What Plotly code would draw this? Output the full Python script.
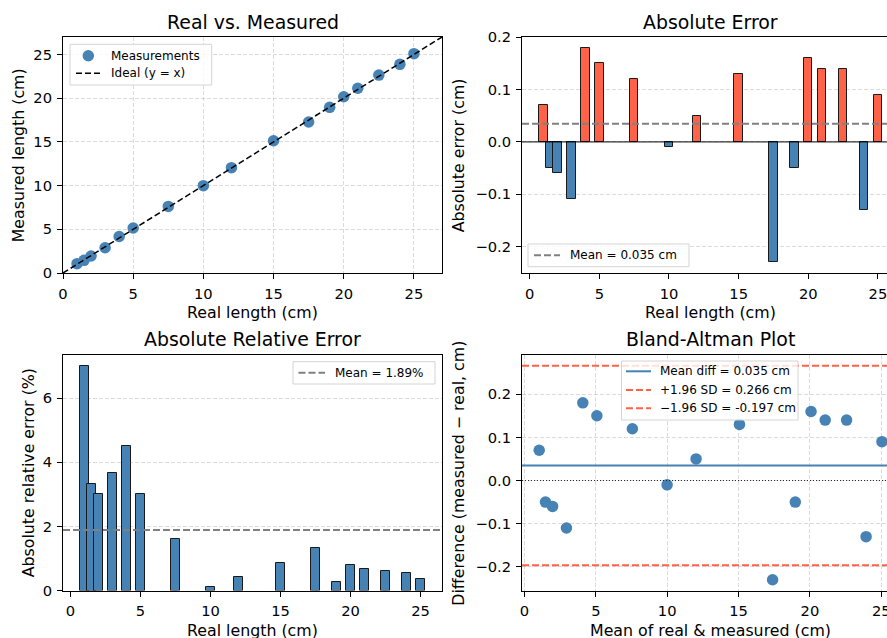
import numpy as np
import plotly.graph_objects as go

# ---------------- data ----------------
real_length = [1, 1.5, 2, 3, 4, 5, 7.5, 10, 12, 15, 17.5, 19, 20, 21, 22.5, 24, 25]
measured_length = [1.07, 1.45, 1.94, 2.89, 4.18, 5.15, 7.62, 9.99, 12.05, 15.13,
                   17.27, 18.95, 20.16, 21.14, 22.64, 23.87, 25.09]
x_ticks = [0, 5, 10, 15, 20, 25]
err_ticks = [-0.2, -0.1, 0.0, 0.1, 0.2]
rel_ticks = [0, 2, 4, 6]

real = np.array(real_length, dtype=float)
meas = np.array(measured_length, dtype=float)
err = np.round(meas - real, 4)
rel_err = np.abs(err) / real * 100
mean_err = err.mean()
mean_rel = rel_err.mean()
sd = err.std()
upper = mean_err + 1.96 * sd
lower = mean_err - 1.96 * sd
ba_x = (real + meas) / 2
lim = 27

# ---------------- style ----------------
FONT = "DejaVu Sans"
BLUE = "#4682B4"
RED = "#FF6347"
W, H = 887, 638
GRID = "rgba(176,176,176,0.45)"
DASH = "7px,3px"


def px(v):
    return v / W


def py(v):
    return 1 - v / H


def axis(domain, rng, ticks, grid, fmt=None, anchor=None, mirror=True):
    d = dict(domain=domain, range=rng, autorange=False, tickmode="array", tickvals=ticks,
             showline=True, linecolor="black", linewidth=1, mirror=mirror,
             ticks="outside", ticklen=5, tickwidth=1, tickcolor="black",
             tickfont=dict(family=FONT, size=14.7, color="black"),
             showgrid=grid, gridcolor=GRID, griddash="4px,2px", gridwidth=1,
             zeroline=False, anchor=anchor, ticklabelstandoff=2,
             automargin=False, ticklabeloverflow="allow")
    if fmt:
        d["tickformat"] = fmt
    return d


fig = go.Figure()

# Panel 1: Real vs Measured
fig.add_trace(go.Scatter(x=real, y=meas, mode="markers", name="Measurements",
                         marker=dict(color=BLUE, size=11.5), xaxis="x", yaxis="y"))
fig.add_trace(go.Scatter(x=[0, lim], y=[0, lim], mode="lines", name="Ideal (y = x)",
                         line=dict(color="black", dash="6px,3px", width=1.5),
                         xaxis="x", yaxis="y"))

# Panel 2: Absolute error bars
fig.add_trace(go.Bar(x=real, y=err, width=0.6,
                     marker=dict(color=[RED if e > 0 else BLUE for e in err],
                                 line=dict(color="#1a1a1a", width=1)),
                     xaxis="x2", yaxis="y2"))

# Panel 3: Relative error bars
fig.add_trace(go.Bar(x=real, y=rel_err, width=0.6,
                     marker=dict(color=BLUE, line=dict(color="#1a1a1a", width=1)),
                     xaxis="x3", yaxis="y3"))

# Panel 4: Bland-Altman
fig.add_trace(go.Scatter(x=ba_x, y=err, mode="markers",
                         marker=dict(color=BLUE, size=11.5), xaxis="x4", yaxis="y4"))

shapes = [
    dict(type="line", xref="x2 domain", yref="y2", x0=0, x1=1, y0=0, y1=0,
         line=dict(color="black", width=1)),
    dict(type="line", xref="x2 domain", yref="y2", x0=0, x1=1, y0=mean_err, y1=mean_err,
         line=dict(color="gray", width=2, dash=DASH)),
    dict(type="line", xref="x3 domain", yref="y3", x0=0, x1=1, y0=mean_rel, y1=mean_rel,
         line=dict(color="gray", width=2, dash=DASH)),
    dict(type="line", xref="x4 domain", yref="y4", x0=0, x1=1, y0=0, y1=0,
         line=dict(color="#222", width=1, dash="1px,2px")),
    dict(type="line", xref="x4 domain", yref="y4", x0=0, x1=1, y0=mean_err, y1=mean_err,
         line=dict(color=BLUE, width=2)),
    dict(type="line", xref="x4 domain", yref="y4", x0=0, x1=1, y0=upper, y1=upper,
         line=dict(color=RED, width=2, dash=DASH)),
    dict(type="line", xref="x4 domain", yref="y4", x0=0, x1=1, y0=lower, y1=lower,
         line=dict(color=RED, width=2, dash=DASH)),
]


def text(s, x, y, size, angle=0, anchor="center"):
    return dict(text=s, x=px(x), y=py(y), xref="paper", yref="paper", showarrow=False,
                xanchor=anchor, yanchor="middle", textangle=angle,
                font=dict(family=FONT, size=size, color="black"))


TS, LS, LG = 18.9, 15.8, 12
annotations = [
    text("Real vs. Measured", 252.5, 21.7, TS),
    text("Absolute Error", 710, 21.7, TS),
    text("Absolute Relative Error", 252.5, 339.3, TS),
    text("Bland-Altman Plot", 710, 339.3, TS),
    text("Real length (cm)", 252.5, 312, LS),
    text("Real length (cm)", 710, 312, LS),
    text("Real length (cm)", 252.5, 630, LS),
    text("Mean of real &amp; measured (cm)", 710, 630, LS),
    text("Measured length (cm)", 18.3, 155, LS, -90),
    text("Absolute error (cm)", 458.3, 155, LS, -90),
    text("Absolute relative error (%)", 28.3, 473, LS, -90),
    text("Difference (measured \u2212 real, cm)", 457.7, 473, LS, -90),
]


# ---------------- legends (matplotlib-like framed boxes) ----------------
def leg_box(x0, y0, x1, y1):
    shapes.append(dict(type="rect", xref="paper", yref="paper", x0=px(x0), x1=px(x1),
                       y0=py(y1), y1=py(y0), fillcolor="rgba(255,255,255,0.8)",
                       line=dict(color="#d4d4d4", width=1)))


def leg_line(xa, xb, y, color, dash=None, width=2):
    ln = dict(color=color, width=width)
    if dash:
        ln["dash"] = dash
    shapes.append(dict(type="line", xref="paper", yref="paper", x0=px(xa), x1=px(xb),
                       y0=py(y), y1=py(y), line=ln))


def leg_dot(cx, cy, d, color):
    shapes.append(dict(type="circle", xref="paper", yref="paper",
                       x0=px(cx - d / 2), x1=px(cx + d / 2), y0=py(cy + d / 2), y1=py(cy - d / 2),
                       fillcolor=color, line=dict(width=0)))


def leg_text(s, x, y):
    annotations.append(text(s, x, y, LG, anchor="left"))


# top-left legend
leg_box(70, 44.3, 211.7, 85)
leg_dot(88.3, 55.7, 11.5, BLUE)
leg_text("Measurements", 109, 55.7)
leg_line(76, 101, 73.3, "black", "6px,3px", 1.5)
leg_text("Ideal (y = x)", 109, 73.3)

# top-right legend
leg_box(528, 244, 689, 266.7)
leg_line(534, 560, 255.3, "gray", DASH)
leg_text(f"Mean = {mean_err:.3f} cm", 568, 255.3)

# bottom-left legend
leg_box(293, 361.7, 435, 384)
leg_line(298.5, 325, 372.8, "gray", DASH)
leg_text(f"Mean = {mean_rel:.2f}%", 333, 372.8)

# bottom-right legend
leg_box(621.5, 361, 798, 420)
leg_line(626, 651, 371.3, BLUE)
leg_text(f"Mean diff = {mean_err:.3f} cm", 658, 371.3)
leg_line(626, 651, 390, RED, DASH)
leg_text(f"+1.96 SD = {upper:.3f} cm", 658, 390)
leg_line(626, 651, 408.3, RED, DASH)
leg_text(f"\u22121.96 SD = {lower:.3f} cm", 658, 408.3)

dTL = [px(63), px(442)]
dTR = [px(522), 1.0]
yT = [py(273), py(37)]
yB = [py(590.5), py(355)]

fig.update_layout(
    width=W, height=H, margin=dict(l=0, r=0, t=0, b=0, autoexpand=False),
    paper_bgcolor="white", plot_bgcolor="white",
    font=dict(family=FONT, color="black"),
    showlegend=False, bargap=0, barmode="overlay",
    xaxis=axis(dTL, [0, lim], x_ticks, True, anchor="y"),
    yaxis=axis(yT, [0, lim], [0, 5, 10, 15, 20, 25], True, anchor="x"),
    xaxis2=axis(dTR, [-0.55, 25.65], x_ticks, False, anchor="y2"),
    yaxis2=axis(yT, [-0.2505, 0.2005], err_ticks, True, fmt=".1f", anchor="x2", mirror=False),
    xaxis3=axis(dTL, [-0.53, 26.53], x_ticks, False, anchor="y3"),
    yaxis3=axis(yB, [0, 7.35], rel_ticks, True, anchor="x3"),
    xaxis4=axis(dTR, [-0.17, 25.4], x_ticks, True, anchor="y4"),
    yaxis4=axis(yB, [-0.2548, 0.2908], err_ticks, True, fmt=".1f", anchor="x4", mirror=False),
    shapes=shapes,
    annotations=annotations,
)

fig.write_html("out.html")
